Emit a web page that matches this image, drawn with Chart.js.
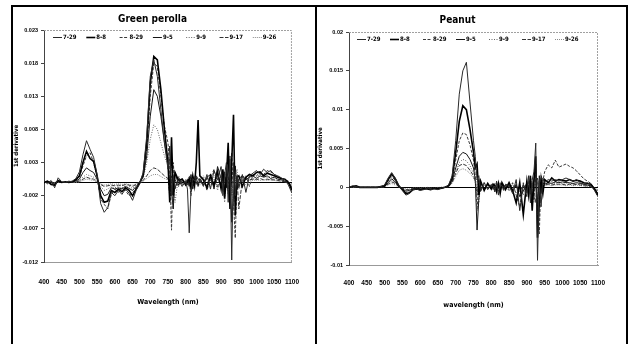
<!DOCTYPE html>
<html><head><meta charset="utf-8">
<script src="https://cdn.jsdelivr.net/npm/chart.js@4"></script>
<style>
html,body{margin:0;padding:0;background:#fff;width:628px;height:344px;overflow:hidden}
#frame{position:absolute;left:11px;top:5px;width:613px;height:345px;border:2px solid #000;border-bottom:none}
#divider{position:absolute;left:315px;top:5px;width:2px;height:345px;background:#000}
.box{position:absolute}
</style></head>
<body>
<div id="frame"></div><div id="divider"></div>
<div class="box" style="left:13px;top:7px;width:302px;height:337px"><canvas id="c1"></canvas></div>
<div class="box" style="left:317px;top:7px;width:309px;height:337px"><canvas id="c2"></canvas></div>
<script>
// ---- data ----
const wavelengths = [400,410,420,430,440,450,460,470,480,490,500,
 510,520,530,540,550,560,570,580,590,600,
 610,620,630,640,650,660,670,680,690,700,
 710,720,730,740,750,
 755,760,765,770,780,790,800,
 805,810,815,820,825,830,835,840,
 850,860,870,880,890,900,
 905,910,915,920,925,930,935,940,945,
 950,960,970,980,990,1000,1010,1020,1030,1040,1050,1060,1070,1080,1090,1100];
const seriesLabels = ['7-29','8-8','8-29','9-5','9-9','9-17','9-26'];
const xTicks = {min:400, max:1100, step:50};
const yTicksLeft = {min:-0.012, max:0.023, step:0.005};
const yTicksRight = {min:-0.01, max:0.02, step:0.005};

// Green perolla
const perilla_0729 = [0.0002,-0.0002,0.0003,-0.0008,0.0007,0.0001,0.0000,0.0001,0.0002,0.0006,0.0016,
 0.0042,0.0063,0.0050,0.0038,0.0012,-0.0032,-0.0045,-0.0038,-0.0015,-0.0020,
 -0.0012,-0.0018,-0.0010,-0.0016,-0.0027,-0.0012,-0.0002,0.0015,0.0070,0.0160,
 0.0185,0.0160,0.0110,0.0060,0.0020,
 0.0055,-0.0020,0.0010,-0.0008,0.0004,-0.0006,0.0002,
 -0.0010,-0.0076,-0.0012,0.0006,0.0002,0.0010,0.0005,0.0004,
 -0.0006,0.0012,-0.0010,0.0018,0.0004,0.0024,
 -0.0020,0.0012,0.0030,-0.0030,0.0040,-0.0117,0.0030,-0.0020,0.0010,
 -0.0008,0.0012,-0.0015,0.0010,0.0014,0.0018,0.0012,0.0020,0.0015,0.0018,0.0012,0.0010,0.0007,0.0004,-0.0004,-0.0016];
const perilla_0808 = [0.0000,0.0002,-0.0003,-0.0004,0.0003,0.0000,0.0001,0.0000,0.0001,0.0004,0.0010,
 0.0030,0.0047,0.0036,0.0032,0.0010,-0.0020,-0.0030,-0.0028,-0.0012,-0.0015,
 -0.0010,-0.0014,-0.0008,-0.0012,-0.0020,-0.0010,-0.0001,0.0012,0.0060,0.0150,
 0.0190,0.0185,0.0140,0.0080,0.0030,
 -0.0030,0.0068,-0.0020,0.0015,0.0003,0.0005,-0.0004,
 0.0000,0.0006,-0.0008,0.0010,-0.0005,0.0030,0.0094,0.0010,
 0.0004,-0.0008,0.0010,-0.0004,0.0016,-0.0010,
 0.0020,-0.0024,0.0008,0.0060,-0.0040,0.0030,0.0102,-0.0050,0.0008,
 0.0010,-0.0006,0.0008,0.0012,0.0010,0.0015,0.0016,0.0010,0.0014,0.0012,0.0010,0.0008,0.0006,0.0005,0.0000,-0.0012];
const perilla_0829 = [0.0003,-0.0001,0.0002,-0.0005,0.0004,0.0000,0.0000,0.0002,0.0001,0.0003,0.0008,
 0.0025,0.0040,0.0045,0.0030,0.0008,-0.0025,-0.0033,-0.0040,-0.0018,-0.0010,
 -0.0015,-0.0008,-0.0012,-0.0020,-0.0016,-0.0008,0.0000,0.0010,0.0050,0.0130,
 0.0180,0.0175,0.0130,0.0085,0.0060,
 0.0020,-0.0072,0.0030,-0.0010,0.0008,-0.0003,0.0004,
 -0.0004,0.0004,-0.0020,0.0006,0.0010,-0.0004,0.0004,0.0002,
 0.0008,-0.0012,0.0006,0.0020,-0.0008,0.0012,
 0.0018,-0.0012,0.0005,0.0010,-0.0020,0.0045,-0.0030,-0.0084,0.0012,
 -0.0004,0.0008,0.0010,-0.0006,0.0012,0.0010,0.0015,0.0012,0.0018,0.0016,0.0012,0.0009,0.0006,0.0004,0.0002,-0.0010];
const perilla_0905 = [-0.0001,0.0001,0.0000,-0.0002,0.0002,0.0000,0.0000,0.0000,0.0001,0.0002,0.0005,
 0.0015,0.0022,0.0018,0.0015,0.0005,-0.0010,-0.0020,-0.0018,-0.0008,-0.0010,
 -0.0008,-0.0010,-0.0006,-0.0009,-0.0012,-0.0006,0.0000,0.0008,0.0040,0.0100,
 0.0140,0.0130,0.0100,0.0060,0.0030,
 0.0035,-0.0015,-0.0040,0.0015,-0.0004,0.0006,-0.0002,
 0.0004,-0.0006,0.0012,-0.0010,0.0005,0.0008,-0.0006,0.0006,
 -0.0004,0.0008,0.0012,-0.0010,0.0024,0.0006,
 -0.0012,0.0016,-0.0008,0.0024,0.0035,-0.0060,-0.0020,0.0025,-0.0010,
 0.0006,0.0010,0.0004,0.0008,0.0010,0.0006,0.0010,0.0008,0.0010,0.0006,0.0008,0.0005,0.0004,0.0002,0.0000,-0.0008];
const perilla_0909 = [0.0000,0.0001,0.0001,-0.0001,0.0001,0.0000,0.0000,0.0000,0.0000,0.0001,0.0003,
 0.0008,0.0012,0.0010,0.0008,0.0003,-0.0006,-0.0012,-0.0010,-0.0006,-0.0008,
 -0.0006,-0.0008,-0.0005,-0.0006,-0.0009,-0.0004,0.0000,0.0006,0.0030,0.0065,
 0.0087,0.0080,0.0060,0.0040,0.0025,
 0.0012,0.0030,-0.0010,-0.0030,0.0010,-0.0004,0.0005,
 0.0002,0.0010,-0.0006,-0.0004,0.0008,-0.0002,0.0002,-0.0004,
 0.0010,0.0004,-0.0006,0.0008,-0.0012,0.0010,
 0.0006,-0.0030,0.0010,-0.0018,0.0020,0.0015,-0.0040,0.0010,0.0020,
 -0.0010,0.0006,0.0008,0.0012,0.0006,0.0008,0.0012,0.0009,0.0007,0.0009,0.0006,0.0005,0.0004,0.0003,0.0000,-0.0006];
const perilla_0917 = [0.0001,0.0000,-0.0001,0.0000,0.0001,0.0000,0.0000,0.0000,0.0000,0.0001,0.0002,
 0.0005,0.0008,0.0006,0.0005,0.0001,-0.0003,-0.0006,-0.0005,-0.0004,-0.0005,
 -0.0004,-0.0005,-0.0003,-0.0004,-0.0006,-0.0003,0.0000,0.0003,0.0010,0.0018,
 0.0022,0.0020,0.0015,0.0010,0.0006,
 -0.0020,0.0010,-0.0030,0.0004,-0.0006,0.0003,-0.0003,
 0.0006,-0.0004,0.0004,-0.0008,0.0003,0.0006,-0.0003,0.0002,
 -0.0003,0.0006,0.0004,-0.0006,0.0010,-0.0004,
 0.0008,-0.0016,0.0020,-0.0010,-0.0030,0.0012,0.0020,-0.0030,0.0006,
 -0.0040,0.0004,0.0006,0.0004,0.0005,0.0004,0.0006,0.0004,0.0005,0.0004,0.0004,0.0003,0.0002,0.0001,-0.0001,-0.0004];
const perilla_0926 = [0.0000,0.0000,0.0001,0.0000,0.0000,0.0000,0.0000,0.0000,0.0000,0.0000,0.0001,
 0.0003,0.0005,0.0004,0.0003,0.0001,-0.0002,-0.0004,-0.0003,-0.0002,-0.0003,
 -0.0002,-0.0003,-0.0002,-0.0003,-0.0004,-0.0002,0.0000,0.0002,0.0006,0.0010,
 0.0012,0.0012,0.0009,0.0006,0.0004,
 0.0002,-0.0010,0.0008,-0.0004,0.0002,-0.0002,0.0001,
 -0.0002,0.0003,-0.0003,0.0002,-0.0002,0.0003,-0.0002,0.0001,
 0.0002,-0.0004,0.0003,-0.0002,0.0004,-0.0002,
 0.0003,-0.0006,0.0004,-0.0008,0.0010,-0.0020,0.0008,0.0004,-0.0004,
 0.0002,0.0003,-0.0004,0.0004,0.0003,0.0004,0.0003,0.0004,0.0003,0.0004,0.0003,0.0002,0.0002,0.0001,0.0000,-0.0003];

// Peanut
const peanut_0729 = [0.0000,0.0002,0.0001,0.0000,0.0000,0.0000,0.0000,0.0000,0.0000,0.0001,0.0003,
 0.0012,0.0019,0.0012,0.0002,-0.0004,-0.0010,-0.0008,-0.0003,-0.0002,-0.0004,
 -0.0003,-0.0001,-0.0003,-0.0002,-0.0003,-0.0001,0.0000,0.0003,0.0015,0.0060,
 0.0120,0.0150,0.0161,0.0110,0.0060,
 0.0040,0.0010,0.0015,-0.0005,0.0006,-0.0003,0.0004,
 0.0002,-0.0006,0.0008,-0.0010,0.0004,0.0002,-0.0004,0.0004,
 0.0002,-0.0008,0.0010,-0.0030,0.0004,-0.0012,
 0.0015,-0.0020,0.0010,0.0020,0.0057,-0.0094,0.0010,-0.0025,0.0012,
 0.0006,0.0010,0.0008,0.0010,0.0008,0.0010,0.0012,0.0010,0.0008,0.0010,0.0006,0.0004,0.0006,0.0002,-0.0004,-0.0012];
const peanut_0808 = [0.0000,0.0001,0.0002,0.0000,0.0000,0.0000,0.0000,0.0000,0.0000,0.0001,0.0002,
 0.0010,0.0017,0.0011,0.0002,-0.0003,-0.0008,-0.0007,-0.0003,-0.0002,-0.0003,
 -0.0002,-0.0002,-0.0003,-0.0001,-0.0002,-0.0001,0.0000,0.0002,0.0012,0.0045,
 0.0085,0.0105,0.0100,0.0075,0.0045,
 0.0025,0.0030,-0.0010,0.0008,-0.0004,0.0005,-0.0002,
 0.0004,0.0002,-0.0006,0.0005,-0.0008,0.0006,0.0002,-0.0003,
 0.0006,-0.0004,-0.0020,0.0006,-0.0035,0.0008,
 -0.0010,0.0015,-0.0030,0.0010,0.0040,-0.0065,-0.0020,0.0010,-0.0008,
 0.0010,0.0006,0.0012,0.0008,0.0010,0.0009,0.0008,0.0010,0.0008,0.0009,0.0008,0.0006,0.0005,0.0004,-0.0002,-0.0010];
const peanut_0829 = [0.0001,0.0000,0.0001,0.0000,0.0000,0.0000,0.0000,0.0000,0.0000,0.0001,0.0002,
 0.0008,0.0014,0.0009,0.0001,-0.0003,-0.0007,-0.0006,-0.0003,-0.0002,-0.0003,
 -0.0002,-0.0001,-0.0002,-0.0002,-0.0002,-0.0001,0.0000,0.0002,0.0010,0.0035,
 0.0060,0.0070,0.0068,0.0055,0.0035,
 0.0015,-0.0030,0.0010,-0.0005,0.0006,-0.0002,0.0003,
 -0.0003,0.0005,0.0002,-0.0005,0.0006,-0.0002,0.0003,0.0001,
 -0.0004,0.0006,-0.0010,-0.0025,0.0006,-0.0008,
 0.0008,-0.0010,0.0006,-0.0015,0.0020,-0.0040,-0.0060,0.0015,0.0008,
 0.0020,0.0029,0.0025,0.0035,0.0026,0.0028,0.0030,0.0027,0.0025,0.0021,0.0016,0.0011,0.0008,0.0005,-0.0002,-0.0012];
const peanut_0905 = [0.0000,0.0001,0.0000,0.0000,0.0000,0.0000,0.0000,0.0000,0.0000,0.0000,0.0001,
 0.0006,0.0011,0.0007,0.0001,-0.0002,-0.0005,-0.0004,-0.0002,-0.0001,-0.0002,
 -0.0002,-0.0001,-0.0001,-0.0002,-0.0001,-0.0001,0.0000,0.0002,0.0008,0.0025,
 0.0040,0.0045,0.0043,0.0036,0.0025,
 0.0010,-0.0055,-0.0015,0.0006,-0.0002,0.0004,-0.0002,
 0.0003,-0.0004,0.0005,0.0003,-0.0004,0.0004,-0.0002,0.0003,
 0.0003,-0.0006,0.0004,-0.0012,-0.0005,0.0006,
 -0.0006,0.0010,-0.0012,0.0008,0.0030,-0.0030,0.0015,-0.0008,0.0006,
 0.0004,0.0006,0.0005,0.0007,0.0006,0.0007,0.0006,0.0006,0.0005,0.0006,0.0005,0.0004,0.0003,0.0002,-0.0002,-0.0008];
const peanut_0909 = [0.0000,0.0000,0.0001,0.0000,0.0000,0.0000,0.0000,0.0000,0.0000,0.0000,0.0001,
 0.0005,0.0009,0.0006,0.0001,-0.0002,-0.0004,-0.0003,-0.0002,-0.0001,-0.0002,
 -0.0001,-0.0001,-0.0002,-0.0001,-0.0001,-0.0001,0.0000,0.0002,0.0007,0.0020,
 0.0032,0.0036,0.0034,0.0028,0.0018,
 0.0030,0.0005,-0.0020,0.0004,-0.0003,0.0003,-0.0001,
 0.0002,0.0003,-0.0003,0.0002,0.0003,-0.0003,0.0002,0.0001,
 -0.0002,0.0004,-0.0008,0.0003,-0.0010,0.0004,
 0.0005,-0.0008,0.0012,-0.0020,0.0015,-0.0025,0.0008,0.0005,-0.0004,
 0.0005,0.0004,0.0006,0.0005,0.0006,0.0005,0.0006,0.0005,0.0005,0.0004,0.0004,0.0003,0.0003,0.0001,-0.0002,-0.0008];
const peanut_0917 = [0.0000,0.0001,0.0000,0.0000,0.0000,0.0000,0.0000,0.0000,0.0000,0.0000,0.0001,
 0.0004,0.0007,0.0005,0.0001,-0.0001,-0.0003,-0.0003,-0.0001,-0.0001,-0.0001,
 -0.0001,-0.0001,-0.0001,-0.0001,-0.0001,0.0000,0.0000,0.0001,0.0006,0.0018,
 0.0028,0.0030,0.0028,0.0022,0.0015,
 0.0008,-0.0010,0.0005,-0.0003,0.0003,-0.0002,0.0002,
 -0.0002,0.0002,0.0001,-0.0002,0.0002,0.0001,-0.0002,0.0002,
 0.0001,-0.0003,0.0002,-0.0006,0.0003,-0.0004,
 0.0003,-0.0005,0.0006,-0.0010,-0.0020,0.0012,-0.0015,0.0004,0.0002,
 0.0003,0.0004,0.0003,0.0004,0.0004,0.0004,0.0003,0.0004,0.0003,0.0004,0.0003,0.0002,0.0002,0.0001,-0.0001,-0.0006];
const peanut_0926 = [0.0000,0.0000,0.0000,0.0000,0.0000,0.0000,0.0000,0.0000,0.0000,0.0000,0.0001,
 0.0003,0.0005,0.0003,0.0000,-0.0001,-0.0002,-0.0002,-0.0001,-0.0001,-0.0001,
 -0.0001,0.0000,-0.0001,-0.0001,0.0000,0.0000,0.0000,0.0001,0.0005,0.0014,
 0.0022,0.0024,0.0022,0.0018,0.0012,
 0.0006,0.0002,-0.0008,0.0003,-0.0002,0.0002,-0.0001,
 0.0002,-0.0002,0.0002,0.0001,-0.0002,0.0002,0.0001,-0.0001,
 0.0002,-0.0002,0.0002,-0.0003,0.0002,-0.0002,
 0.0002,-0.0004,0.0003,-0.0006,0.0010,-0.0015,0.0005,-0.0003,0.0002,
 0.0002,0.0003,0.0002,0.0003,0.0003,0.0003,0.0002,0.0003,0.0002,0.0003,0.0002,0.0002,0.0001,0.0001,0.0000,-0.0004];

// ---- styles ----
const FONT = '"Liberation Sans Narrow", "DejaVu Sans Condensed", "Liberation Sans", sans-serif';
const TICKFONT = '"Liberation Sans", Arial, sans-serif';
const lineStyles = [
  {color:'#2a2a2a', width:1,   dash:[]},
  {color:'#000000', width:1.6, dash:[]},
  {color:'#3a3a3a', width:1,   dash:[3,1.5]},
  {color:'#151515', width:1,   dash:[]},
  {color:'#666666', width:1,   dash:[1,1.5]},
  {color:'#333333', width:1,   dash:[4,1.5]},
  {color:'#8a8a8a', width:1,   dash:[1,1]}
];

const insideLegend = {
  id:'insideLegend',
  afterDatasetsDraw(chart, args, opts){
    const {ctx, chartArea} = chart;
    ctx.save();
    ctx.font = 'bold 6px ' + FONT;
    ctx.textBaseline = 'middle';
    chart.data.datasets.forEach((ds,i)=>{
      const x = chartArea.left + opts.x0 + i*opts.step;
      const y = Math.round(chartArea.top + opts.y0) + 0.5;
      ctx.beginPath();
      ctx.setLineDash(ds.borderDash || []);
      ctx.strokeStyle = ds.borderColor; ctx.lineWidth = ds.borderWidth;
      ctx.moveTo(x, y); ctx.lineTo(x + opts.len, y); ctx.stroke();
      ctx.setLineDash([]);
      ctx.fillStyle = '#000';
      ctx.fillText(ds.label, x + opts.len + 1, y);
    });
    ctx.restore();
  }
};
const frameAndZero = {
  id:'frameAndZero',
  beforeDatasetsDraw(chart){
    const {ctx, chartArea:a, scales} = chart;
    ctx.save();
    ctx.strokeStyle = '#a0a0a0'; ctx.lineWidth = 1; ctx.setLineDash([2,1]);
    ctx.beginPath();
    ctx.moveTo(a.left, a.top + 0.5); ctx.lineTo(a.right - 0.5, a.top + 0.5); ctx.lineTo(a.right - 0.5, a.bottom);
    ctx.stroke();
    ctx.setLineDash([]);
    ctx.strokeStyle = '#000';
    const y0 = Math.round(scales.y.getPixelForValue(0)) + 0.5;
    ctx.beginPath(); ctx.moveTo(a.left, y0); ctx.lineTo(a.right, y0); ctx.stroke();
    ctx.restore();
  }
};

function makeChart(id, cfg){
  const datasets = cfg.series.map((vals,i)=>({
    label: seriesLabels[i],
    data: wavelengths.map((w,j)=>({x:w, y:vals[j]})),
    borderColor: lineStyles[i].color,
    borderWidth: lineStyles[i].width,
    borderDash: lineStyles[i].dash,
    pointRadius: 0, fill: false, tension: 0
  }));
  return new Chart(document.getElementById(id), {
    type:'line',
    data:{datasets},
    plugins:[insideLegend, frameAndZero],
    options:{
      responsive:true, maintainAspectRatio:false, animation:false, events:[],
      layout:{padding:{left:0, right:cfg.padRight, top:0, bottom:cfg.padBottom}},
      plugins:{
        legend:{display:false}, tooltip:{enabled:false},
        title:{display:true, text:cfg.title, color:'#000',
          font:{family:FONT, size:10, weight:'bold'},
          padding:{top:cfg.titleTop, bottom:cfg.titleBottom}},
        insideLegend:{x0:cfg.legX0, y0:7, step:cfg.legStep, len:9}
      },
      scales:{
        x:{type:'linear', min:xTicks.min, max:xTicks.max,
          ticks:{stepSize:xTicks.step, autoSkip:false, maxRotation:0, padding:cfg.xTickPad,
            color:'#000', font:{family:TICKFONT, size:6.5, weight:'bold'}, callback:v=>String(v)},
          grid:{drawOnChartArea:false, drawTicks:false},
          border:{display:true, color:'#999', dash:[2,1]},
          title:{display:true, text:cfg.xTitle, color:'#000',
            font:{family:FONT, size:7, weight:'bold'}, padding:{top:0, bottom:cfg.xTitlePad}},
          afterFit:s=>{ s.height = 60; }
        },
        y:{min:cfg.yTicks.min, max:cfg.yTicks.max,
          ticks:{stepSize:cfg.yTicks.step, padding:3, color:'#000',
            font:{family:TICKFONT, size:5.5, weight:'bold'}, callback:cfg.fmt},
          grid:{drawOnChartArea:false, drawTicks:true, tickLength:3, tickColor:'#444'},
          border:{display:true, color:'#444', dash:[3,2]},
          title:{display:true, text:'1st derivative', color:'#000',
            font:{family:FONT, size:6, weight:'bold', lineHeight:1}, padding:{top:0, bottom:0}},
          afterFit:s=>{ s.width = cfg.yWidth; }
        }
      }
    }
  });
}

makeChart('c1', {
  title:'Green perolla', xTitle:'Wavelength (nm)',
  series:[perilla_0729, perilla_0808, perilla_0829, perilla_0905, perilla_0909, perilla_0917, perilla_0926],
  yTicks:yTicksLeft, fmt:v=>v.toFixed(3),
  yWidth:31, padRight:23, padBottom:22, titleTop:6, titleBottom:5,
  xTickPad:16, xTitlePad:16, legX0:9, legStep:33.3
});
makeChart('c2', {
  title:'Peanut', xTitle:'wavelength (nm)',
  series:[peanut_0729, peanut_0808, peanut_0829, peanut_0905, peanut_0909, peanut_0917, peanut_0926],
  yTicks:yTicksRight, fmt:v=>String(Number(v.toFixed(3))),
  yWidth:32, padRight:28, padBottom:19, titleTop:7, titleBottom:6,
  xTickPad:14, xTitlePad:16, legX0:8, legStep:33
});
</script>
</body></html>
